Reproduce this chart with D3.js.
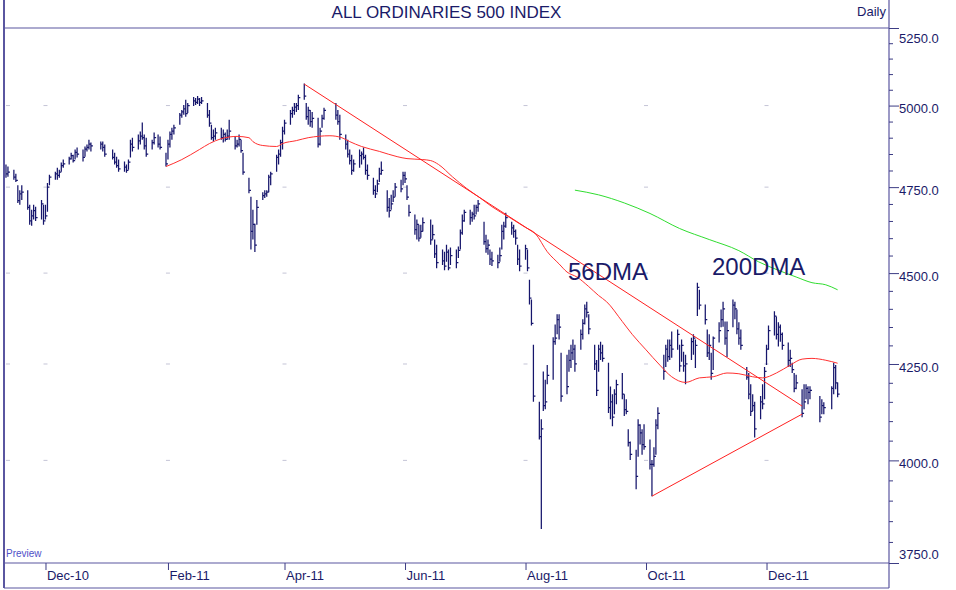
<!DOCTYPE html>
<html lang="en">
<head>
<meta charset="utf-8">
<title>All Ordinaries 500 Index</title>
<style>
  body { margin: 0; background: #fff; }
  svg { display: block; font-family: "Liberation Sans", Arial, sans-serif; }
</style>
</head>
<body>
<div id="chart"></div>
<script src="https://cdn.jsdelivr.net/npm/d3@7"></script>
<script>
// trading days run from firstDay to lastDay, weekends and ASX holidays skipped
const firstDay = '2010-11-11';
const lastDay = '2012-01-06';
const holidays = ['2010-12-27', '2010-12-28', '2011-01-03', '2011-01-26', '2011-04-22',
  '2011-04-25', '2011-04-26', '2011-06-13', '2011-12-26', '2011-12-27', '2012-01-02'];

// daily high / low / close, one line per month
const highs = [
  4818,4812,4802,4790,4756,4741,4756,4741,4698,4683,4698,4692,4712,4698,
  4698,4762,4787,4796,4808,4802,4824,4833,4842,4854,4848,4864,4870,4864,4873,4879,4894,4885,4888,4888,4879,
  4864,4854,4842,4833,4827,4818,4833,4894,4900,4910,4919,4947,4910,4900,4894,4916,4910,4904,4854,
  4894,4919,4931,4940,4977,4986,5002,5018,5008,5027,5024,5030,5024,5027,5008,4986,4940,4925,4931,4931,
  4925,4916,4925,4956,4904,4894,4910,4894,4854,4778,4721,4683,4642,4712,4735,4741,4741,4787,4796,4848,4864,4894,4934,
  4956,4986,4996,5008,5008,5034,5070,5008,4996,4986,4980,4962,4931,4971,4993,5008,4986,4971,
  4910,4894,4864,4848,4833,4864,4858,4870,4848,4818,4778,4756,4772,4808,4827,4741,4718,4727,4741,4762,4772,4796,
  4796,4756,4698,4669,4654,4639,4639,4660,4654,4639,4596,4581,4567,4561,4581,4567,4573,4567,4576,4625,4669,
  4683,4683,4677,4698,4698,4712,4648,4610,4596,4567,4561,4552,4573,4639,4648,4674,4648,4639,4625,4581,4567,
  4581,4567,4481,4426,4302,4150,4105,4230,4208,4247,4322,4357,4385,4385,4280,4275,4288,4302,4316,4302,4343,4371,4412,
  4420,4385,4302,4261,4302,4310,4302,4253,4190,4170,4183,4208,4226,4170,4157,4079,4048,4027,4105,4092,4079,4092,
  4053,4001,4033,4105,4136,4275,4302,4316,4316,4338,4343,4302,4316,4283,4275,4321,4330,4316,4473,4453,4412,
  4343,4330,4280,4324,4363,4398,4420,4365,4365,4426,4420,4398,4363,4343,4242,4226,4196,4170,4150,4165,4196,4242,
  4302,4354,4393,4379,4363,4357,4335,4308,4288,4253,4226,4221,4183,4196,4196,4191,4191,4165,4157,4149,
  4191,4253,4247,4201
];
const lows = [
  4778,4781,4772,4765,4703,4698,4712,4683,4639,4636,4654,4650,4654,4639,
  4654,4677,4756,4772,4772,4778,4796,4808,4818,4833,4824,4833,4839,4827,4842,4858,4864,4858,4864,4858,4842,
  4833,4818,4808,4796,4796,4793,4802,4839,4858,4864,4879,4894,4864,4842,4864,4879,4870,4864,4812,
  4833,4870,4894,4910,4940,4962,4971,4965,4977,4999,5002,5005,4999,5005,4962,4934,4894,4888,4894,4894,
  4885,4888,4894,4894,4864,4870,4873,4854,4787,4732,4567,4596,4560,4639,4712,4718,4721,4735,4756,4796,4818,4842,4864,
  4910,4940,4962,4971,4980,4986,5018,4956,4940,4934,4931,4870,4876,4931,4956,4956,4940,4894,
  4864,4839,4818,4787,4796,4808,4818,4833,4787,4772,4727,4718,4735,4765,4787,4677,4660,4683,4706,4721,4735,4756,
  4762,4712,4663,4610,4596,4590,4601,4619,4581,4596,4543,4514,4523,4508,4532,4508,4523,4514,4543,4567,4610,
  4648,4639,4648,4654,4669,4677,4581,4558,4552,4523,4520,4514,4532,4567,4596,4630,4610,4601,4581,4523,4505,
  4538,4505,4412,4354,4150,4053,3831,4126,4131,4196,4208,4302,4330,4316,4150,4170,4229,4239,4261,4229,4288,4316,4357,
  4376,4330,4234,4165,4229,4261,4256,4121,4105,4087,4118,4144,4157,4113,4118,4035,4001,3928,4009,4040,4014,4027,
  3977,3911,3984,4014,4079,4208,4242,4256,4261,4267,4288,4229,4256,4229,4196,4261,4275,4239,4380,4398,4357,
  4269,4261,4208,4234,4308,4349,4351,4302,4269,4349,4371,4330,4302,4288,4208,4157,4113,4126,4058,4105,4131,4157,
  4247,4288,4327,4316,4297,4310,4288,4242,4242,4226,4175,4183,4110,4131,4157,4144,4157,4097,4118,4118,
  4131,4170,4183,4162
];
const closes = [
  4790,4795,4780,4770,4710,4730,4735,4690,4650,4665,4680,4660,4700,4650,
  4665,4750,4780,4790,4785,4795,4815,4820,4835,4845,4830,4855,4850,4840,4865,4870,4880,4875,4880,4870,4850,
  4840,4825,4815,4805,4810,4800,4825,4880,4870,4890,4905,4900,4875,4850,4885,4900,4880,4870,4820,
  4880,4910,4920,4930,4970,4980,4990,4975,5000,5015,5010,5020,5010,5015,4970,4945,4900,4905,4915,4900,
  4910,4895,4905,4920,4875,4880,4895,4860,4795,4740,4620,4640,4580,4690,4725,4730,4735,4780,4790,4840,4850,4885,4920,
  4945,4975,4985,4995,5000,5025,5030,4965,4985,4950,4960,4880,4920,4960,4985,4970,4950,4910,
  4880,4850,4830,4800,4820,4845,4850,4840,4800,4785,4740,4730,4760,4790,4800,4690,4680,4700,4720,4750,4745,4785,
  4775,4720,4675,4625,4640,4600,4620,4645,4595,4610,4555,4530,4535,4520,4560,4515,4550,4530,4565,4615,4650,
  4675,4660,4670,4665,4690,4700,4590,4570,4580,4540,4535,4530,4550,4620,4635,4660,4630,4620,4600,4540,4520,
  4570,4515,4430,4360,4165,4060,4080,4140,4150,4220,4310,4320,4370,4350,4165,4190,4260,4280,4290,4250,4330,4360,4400,
  4390,4345,4250,4180,4290,4280,4265,4135,4150,4110,4170,4195,4170,4130,4125,4045,4015,3960,4090,4070,4040,4035,
  3990,3990,4010,4090,4120,4230,4290,4270,4300,4290,4330,4245,4300,4245,4250,4310,4320,4300,4460,4410,4370,
  4280,4300,4225,4320,4340,4370,4400,4320,4340,4410,4400,4345,4320,4300,4215,4170,4125,4140,4080,4150,4145,4230,
  4290,4340,4380,4330,4350,4330,4300,4260,4265,4235,4185,4200,4120,4150,4185,4175,4180,4110,4140,4135,
  4185,4240,4200,4170
];

// 56 day moving average
const ma56Dates = ['2011-01-31','2011-02-08','2011-02-17','2011-02-22','2011-02-28','2011-03-08','2011-03-14',
  '2011-03-16','2011-03-21','2011-03-28','2011-03-31','2011-04-07','2011-04-13','2011-04-24','2011-04-30',
  '2011-05-04','2011-05-10','2011-05-19','2011-05-28','2011-06-02','2011-06-10','2011-06-14','2011-06-18',
  '2011-06-25','2011-07-02','2011-07-09','2011-07-15','2011-07-24','2011-08-01','2011-08-06','2011-08-12',
  '2011-08-18','2011-08-22','2011-08-27','2011-09-02','2011-09-07','2011-09-11','2011-09-19','2011-09-24',
  '2011-10-01','2011-10-08','2011-10-14','2011-10-21','2011-10-28','2011-11-04','2011-11-11','2011-11-17',
  '2011-11-24','2011-11-29','2011-12-06','2011-12-13','2011-12-19','2011-12-24','2011-12-31','2012-01-06'];
const ma56Values = [4812,4833,4864,4882,4897,4904,4900,4888,4876,4873,4882,4891,4900,4906,4900,
  4888,4873,4858,4842,4836,4833,4830,4818,4781,4747,4718,4692,4660,4631,4613,4561,
  4526,4503,4489,4462,4437,4420,4365,4330,4288,4247,4216,4201,4213,4216,4226,4224,
  4216,4213,4226,4247,4263,4265,4260,4252];

// 200 day moving average
const ma200Dates = ['2011-08-26','2011-09-07','2011-09-20','2011-10-03','2011-10-18','2011-11-02','2011-11-17',
  '2011-11-27','2011-12-07','2011-12-16','2011-12-24','2011-12-31','2012-01-06'];
const ma200Values = [4741,4727,4703,4672,4628,4596,4564,4532,4508,4489,4473,4467,4453];

// hand drawn trend lines: [start, end]
const trendDates = [['2011-04-11', '2011-12-19'], ['2011-10-04', '2011-12-19']];
const trendValues = [[5068, 4139], [3911, 4118]];

const yMajor = [3750, 4000, 4250, 4500, 4750, 5000, 5250];
const monthTicks = ['2010-12-01','2011-02-01','2011-04-01','2011-06-01','2011-08-01','2011-10-01','2011-12-01'];

const width = 956;
const height = 590;
const plot = { left: 4, right: 889, top: 28, bottom: 563, foot: 588 };
const ink = '#1a1a68';
const frame = '#5a56a0';

const parse = d3.timeParse('%Y-%m-%d');
const fmt = d3.timeFormat('%Y-%m-%d');

const days = d3.timeDay.range(parse(firstDay), d3.timeDay.offset(parse(lastDay), 1))
  .filter(d => d.getDay() % 6 !== 0 && !holidays.includes(fmt(d)));
const bars = days.map((d, i) => ({ date: d, high: highs[i], low: lows[i], close: closes[i] }));

const x = d3.scaleTime()
  .domain([parse('2010-11-10'), parse('2012-02-01')])
  .range([plot.left, plot.right]);
const y = d3.scaleLog()
  .domain([3750, 5250])
  .range([plot.bottom, plot.top]);

const svg = d3.select('#chart').append('svg')
  .attr('width', width)
  .attr('height', height);

// faint grid marks where month ticks meet value ticks
const marks = [];
monthTicks.forEach(m => yMajor.slice(1, -1).forEach(v => marks.push([x(parse(m)), y(v)])));
yMajor.slice(1, -1).forEach(v => marks.push([plot.left + 4, y(v)]));
svg.append('g')
  .selectAll('line')
  .data(marks)
  .join('line')
  .attr('x1', d => d[0] - 2)
  .attr('x2', d => d[0] + 2)
  .attr('y1', d => d[1])
  .attr('y2', d => d[1])
  .attr('stroke', '#c4c4d6')
  .attr('stroke-width', 1);

// price bars: high-low stick with a close tick to the right
svg.append('g')
  .attr('stroke', '#16166c')
  .attr('stroke-width', 1.25)
  .attr('fill', 'none')
  .selectAll('path')
  .data(bars)
  .join('path')
  .attr('d', b => {
    const bx = x(b.date);
    return `M${bx},${y(b.high)}V${y(b.low)}M${bx},${y(b.close)}H${bx + 2}`;
  });

const line = d3.line()
  .x(d => x(parse(d[0])))
  .y(d => y(d[1]))
  .curve(d3.curveMonotoneX);

svg.append('path')
  .datum(d3.zip(ma56Dates, ma56Values))
  .attr('d', line)
  .attr('fill', 'none')
  .attr('stroke', '#ff3030')
  .attr('stroke-width', 1);

svg.append('path')
  .datum(d3.zip(ma200Dates, ma200Values))
  .attr('d', line)
  .attr('fill', 'none')
  .attr('stroke', '#30dd30')
  .attr('stroke-width', 1);

svg.append('g')
  .selectAll('line')
  .data(d3.zip(trendDates, trendValues))
  .join('line')
  .attr('x1', d => x(parse(d[0][0])))
  .attr('y1', d => y(d[1][0]))
  .attr('x2', d => x(parse(d[0][1])))
  .attr('y2', d => y(d[1][1]))
  .attr('stroke', '#ff2020')
  .attr('stroke-width', 1);

// labels on the chart
svg.append('text')
  .attr('x', 568).attr('y', 280)
  .attr('font-size', 24).attr('fill', ink)
  .text('56DMA');
svg.append('text')
  .attr('x', 712).attr('y', 275)
  .attr('font-size', 24).attr('fill', ink)
  .text('200DMA');

// frame
const border = svg.append('g').attr('stroke', frame).attr('fill', 'none');
border.append('line').attr('x1', plot.left).attr('x2', plot.left).attr('y1', 0).attr('y2', plot.foot).attr('stroke-width', 2);
border.append('line').attr('x1', plot.right).attr('x2', plot.right).attr('y1', 0).attr('y2', plot.foot).attr('stroke-width', 1.2);
border.append('line').attr('x1', plot.left).attr('x2', plot.right).attr('y1', plot.foot).attr('y2', plot.foot).attr('stroke-width', 1.2);
border.append('line').attr('x1', plot.left).attr('x2', plot.right).attr('y1', plot.top).attr('y2', plot.top).attr('stroke-width', 1.2);
border.append('line').attr('x1', plot.left).attr('x2', plot.right).attr('y1', plot.bottom).attr('y2', plot.bottom).attr('stroke-width', 1.2);

// value axis on the right
const minor = d3.range(3750, 5251, 50).filter(v => !yMajor.includes(v));
const gMinor = svg.append('g')
  .attr('transform', `translate(${plot.right},0)`)
  .call(d3.axisRight(y).tickValues(minor).tickSize(4).tickFormat(''));
const gMajor = svg.append('g')
  .attr('transform', `translate(${plot.right},0)`)
  .call(d3.axisRight(y).tickValues(yMajor).tickSize(10).tickPadding(0).tickFormat(d3.format('.1f')));
[gMinor, gMajor].forEach(g => {
  g.select('.domain').remove();
  g.selectAll('line').attr('stroke', '#3c3c84');
});
gMajor.selectAll('text')
  .attr('font-size', 13)
  .attr('font-family', '"Liberation Sans", Arial, sans-serif')
  .attr('fill', ink)
  .attr('y', v => v === 5250 ? 10 : v === 3750 ? -9 : 3);

// date axis along the bottom
const gx = svg.append('g')
  .attr('transform', `translate(0,${plot.bottom})`)
  .call(d3.axisBottom(x).tickValues(monthTicks.map(parse)).tickSize(7).tickPadding(1)
    .tickFormat(d3.timeFormat('%b-%y')));
gx.select('.domain').remove();
gx.selectAll('line').attr('stroke', '#3c3c84');
gx.selectAll('text')
  .attr('text-anchor', 'start')
  .attr('x', 1)
  .attr('font-size', 13)
  .attr('font-family', '"Liberation Sans", Arial, sans-serif')
  .attr('fill', ink);

// title strip
svg.append('text')
  .attr('x', (plot.left + plot.right) / 2).attr('y', 18)
  .attr('text-anchor', 'middle')
  .attr('font-size', 17).attr('fill', ink)
  .text('ALL ORDINARIES 500 INDEX');
svg.append('text')
  .attr('x', plot.right - 3).attr('y', 16)
  .attr('text-anchor', 'end')
  .attr('font-size', 13).attr('fill', ink)
  .text('Daily');
svg.append('text')
  .attr('x', plot.left + 2).attr('y', 557)
  .attr('font-size', 10).attr('fill', '#5050c8')
  .text('Preview');

if (days.length !== highs.length) {
  svg.append('text').attr('x', 400).attr('y', 300).attr('fill', 'red')
    .text(`days ${days.length} vs bars ${highs.length}`);
}
</script>
</body>
</html>
